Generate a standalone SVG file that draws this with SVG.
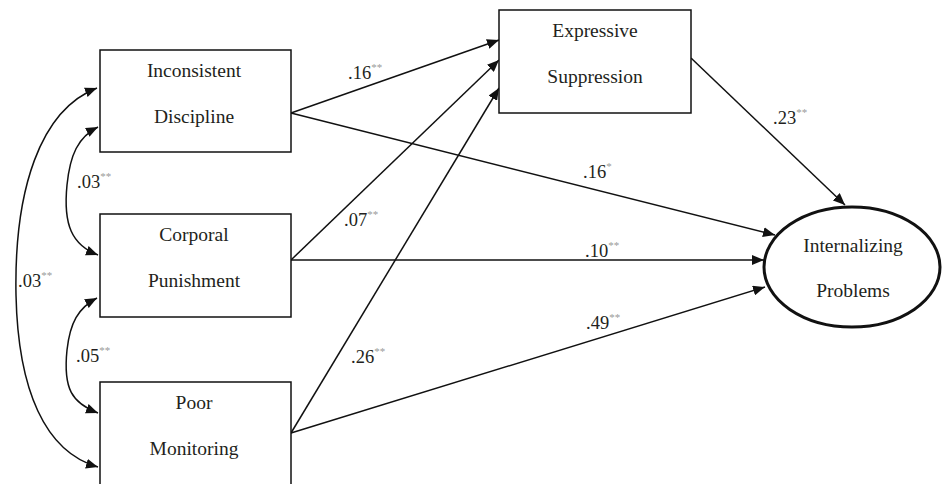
<svg xmlns="http://www.w3.org/2000/svg" width="944" height="484" viewBox="0 0 944 484">
<defs>
<marker id="ah" viewBox="0 0 12 10" refX="12" refY="5" markerWidth="12" markerHeight="10" markerUnits="userSpaceOnUse" orient="auto">
<path d="M0,0 L12,5 L0,10 Z" fill="#111"/>
</marker>
<style>
.box{fill:#fff;stroke:#111;stroke-width:1.5}
text{font-family:'Liberation Serif','Times New Roman',serif}
.t{fill:#231f20;text-anchor:middle}
.l{fill:#231f20}
.s{fill:#9a9a9a}
.c{fill:none;stroke:#111;stroke-width:1.5;marker-end:url(#ah)}
</style>
</defs>
<rect width="944" height="484" fill="#fff"/>
<g id="connectors">
<path class="c" d="M291,113 L499,40"/>
<path class="c" d="M291,113 L775,235"/>
<path class="c" d="M291,260 L499,60"/>
<path class="c" d="M291,260 L764,260"/>
<path class="c" d="M291,433 L499,88"/>
<path class="c" d="M291,433 L765,287"/>
<path class="c" d="M691,58 L845,205"/>
<path class="c" d="M67,185 C 63,225 72,245 98,255"/>
<path class="c" d="M67,185 C 70,155 78,137 98,127"/>
<path class="c" d="M67,350 C 63,389 72,403 98,413"/>
<path class="c" d="M67,350 C 70,323 78,308 97,298"/>
<path class="c" d="M16,295 C 14,190 40,110 97,88"/>
<path class="c" d="M16,295 C 18,390 45,452 98,467"/>
</g>
<g id="inconsistent">
<rect class="box" x="100" y="50" width="191" height="102"/>
<text class="t" x="194" y="77" font-size="19.5">Inconsistent</text>
<text class="t" x="194" y="123" font-size="19.5">Discipline</text>
</g>
<g id="corporal">
<rect class="box" x="100" y="214" width="191" height="103"/>
<text class="t" x="194" y="241" font-size="19.5">Corporal</text>
<text class="t" x="194" y="287" font-size="19.5">Punishment</text>
</g>
<g id="poor">
<rect class="box" x="100" y="382" width="191" height="106"/>
<text class="t" x="194" y="409" font-size="19.5">Poor</text>
<text class="t" x="194" y="455" font-size="19.5">Monitoring</text>
</g>
<g id="expressive">
<rect class="box" x="499" y="10" width="192" height="103"/>
<text class="t" x="595" y="37" font-size="19.5">Expressive</text>
<text class="t" x="595" y="83" font-size="19.5">Suppression</text>
</g>
<g id="internalizing">
<ellipse cx="852" cy="267" rx="88" ry="60" fill="#fff" stroke="#111" stroke-width="3"/>
<text class="t" x="853" y="252" font-size="19.5">Internalizing</text>
<text class="t" x="853" y="297" font-size="19.5">Problems</text>
</g>
<g id="labels" font-size="18.5">
<text class="l" x="77" y="188">.03<tspan class="s" font-size="11" dy="-8">**</tspan></text>
<text class="l" x="18" y="287">.03<tspan class="s" font-size="11" dy="-8">**</tspan></text>
<text class="l" x="76" y="362">.05<tspan class="s" font-size="11" dy="-8">**</tspan></text>
<text class="l" x="348" y="79">.16<tspan class="s" font-size="11" dy="-8">**</tspan></text>
<text class="l" x="583" y="178">.16<tspan class="s" font-size="11" dy="-8">*</tspan></text>
<text class="l" x="344" y="226">.07<tspan class="s" font-size="11" dy="-8">**</tspan></text>
<text class="l" x="585" y="257">.10<tspan class="s" font-size="11" dy="-8">**</tspan></text>
<text class="l" x="586" y="329">.49<tspan class="s" font-size="11" dy="-8">**</tspan></text>
<text class="l" x="351" y="363">.26<tspan class="s" font-size="11" dy="-8">**</tspan></text>
<text class="l" x="773" y="124">.23<tspan class="s" font-size="11" dy="-8">**</tspan></text>
</g>
</svg>
